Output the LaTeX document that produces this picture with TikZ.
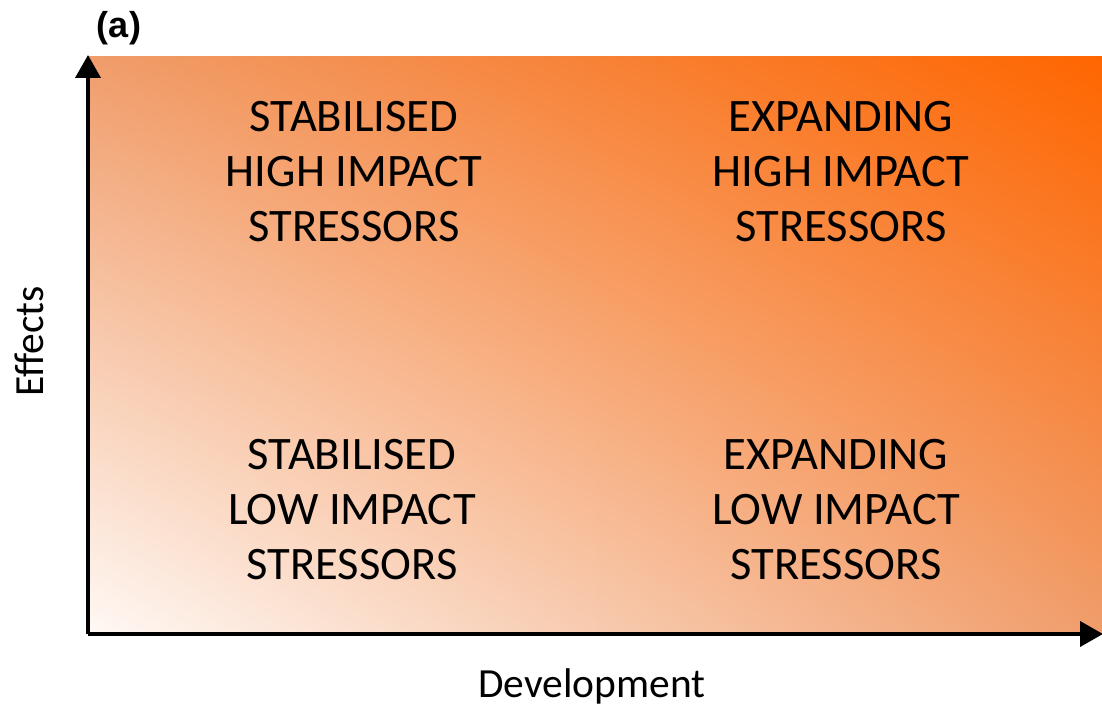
\documentclass[tikz,border=0pt]{standalone}
\usepackage{fontspec}
\setmainfont{Carlito}
\newfontfamily\panelfont{Liberation Sans}
\usepackage{xcolor}
\usetikzlibrary{arrows.meta, shadings}

\definecolor{hotorange}{RGB}{255,102,0}
\definecolor{midorange}{RGB}{240,157,107}
\definecolor{paleorange}{RGB}{255,249,245}

\begin{document}
\begin{tikzpicture}[quadnode/.style={align=center, font=\fontsize{26.5}{31.3}\selectfont},
  axisnode/.style={font=\fontsize{23.6}{27}\selectfont},
  axisline/.style={line width=2.3pt, -{Triangle[length=0.46cm, width=0.5cm]}}]
\useasboundingbox (0,0) rectangle (22.04,14.14);

\shade[lower left=paleorange, upper right=hotorange, upper left=midorange, lower right=midorange]
  (1.76,1.46) rectangle (22.04,13.0);

\coordinate (origin) at (1.76,1.46);
\coordinate (ytop) at (1.76,13.04);
\coordinate (xend) at (22.06,1.46);
\draw[axisline] (origin) -- (ytop);
\draw[axisline] (origin) -- (xend);

\node[quadnode] (stabhigh) at (7.08,10.70) {STABILISED\\HIGH IMPACT\\STRESSORS};
\node[quadnode] (exphigh) at (16.82,10.70) {EXPANDING\\HIGH IMPACT\\STRESSORS};
\node[quadnode] (stablow) at (7.04,3.94) {STABILISED\\LOW IMPACT\\STRESSORS};
\node[quadnode] (explow) at (16.72,3.94) {EXPANDING\\LOW IMPACT\\STRESSORS};

\node[axisnode, rotate=90, anchor=base] (effects) at (0.86,7.31) {Effects};
\node[axisnode, anchor=base] (development) at (11.84,0.18) {Development};
\node[font=\panelfont\bfseries\fontsize{20.5}{24}\selectfont] (panel) at (2.38,13.57) {(a)};

\end{tikzpicture}
\end{document}
